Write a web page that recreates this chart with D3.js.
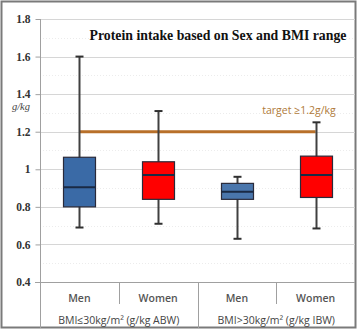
<!DOCTYPE html>
<html><head><meta charset="utf-8">
<script src="https://cdn.jsdelivr.net/npm/d3@7"></script>
<style>body{margin:0;background:#fff}svg{display:block}</style>
</head><body><div id="c"></div>
<script>
const categories = ["Men","Women","Men","Women"];
const groups = ["BMI≤30kg/m² (g/kg ABW)","BMI>30kg/m² (g/kg IBW)"];
const whiskerLow = [0.69,0.71,0.63,0.685];
const q1 = [0.80,0.84,0.84,0.85];
const median = [0.905,0.97,0.88,0.97];
const q3 = [1.064,1.04,0.925,1.07];
const whiskerHigh = [1.60,1.31,0.96,1.25];
const colors = ["#3a6aa6","#ff0000","#4a76ac","#ff0000"];
const yTicks = [0.4,0.6,0.8,1,1.2,1.4,1.6,1.8];
const yTickLabels = ["0.4","0.6","0.8","1","1.2","1.4","1.6","1.8"];
const target = 1.2;
const title = "Protein intake based on Sex and BMI range";

(function(){
const W=358,H=329;
const svg=d3.select("#c").append("svg").attr("width",W).attr("height",H);
svg.append("rect").attr("x",1.5).attr("y",1.5).attr("width",W-4).attr("height",H-3).attr("fill","#fff").attr("stroke","#7a7a7a").attr("stroke-width",2);

const pL=40,pR=355,pT=19,pB=282;
const y=d3.scaleLinear().domain([0.4,1.8]).range([pB,pT]);
const x=d3.scaleBand().domain(d3.range(categories.length)).range([pL,pR]);

const minor=d3.range(0.5,1.8,0.2);
svg.append("g").selectAll("line").data(minor).join("line")
 .attr("x1",pL).attr("x2",pR).attr("y1",d=>Math.round(y(d))+0.5).attr("y2",d=>Math.round(y(d))+0.5)
 .attr("stroke","#ececec").attr("stroke-dasharray","1,2");
svg.append("g").selectAll("line").data(yTicks.slice(1)).join("line")
 .attr("x1",pL).attr("x2",pR).attr("y1",d=>Math.round(y(d))+0.5).attr("y2",d=>Math.round(y(d))+0.5)
 .attr("stroke","#d6d6d6");

const yAxis=d3.axisLeft(y).tickValues(yTicks).tickFormat((d,i)=>yTickLabels[i]).tickSize(5).tickPadding(5);
const ga=svg.append("g").attr("transform",`translate(${pL+0.5},0)`).call(yAxis);
ga.select(".domain").attr("stroke","#a0a0a0").attr("d",`M0,${pT}V${pB}`);
ga.selectAll(".tick line").attr("stroke","#a0a0a0");
ga.selectAll(".tick text").attr("font-family","'Liberation Serif',serif").attr("font-weight","bold").attr("font-size",11.5).attr("fill","#333");
svg.append("line").attr("x1",pL-5).attr("x2",pR).attr("y1",pB+0.5).attr("y2",pB+0.5).attr("stroke","#a0a0a0");
svg.append("line").attr("x1",pL+0.5).attr("x2",pL+0.5).attr("y1",pB).attr("y2",H-1).attr("stroke","#a0a0a0");
[1,3].forEach(i=>svg.append("line").attr("x1",Math.round(x(i))+0.5).attr("x2",Math.round(x(i))+0.5).attr("y1",pB).attr("y2",304).attr("stroke","#a0a0a0"));
svg.append("line").attr("x1",Math.round(x(2))+0.5).attr("x2",Math.round(x(2))+0.5).attr("y1",pB).attr("y2",H-1).attr("stroke","#a0a0a0");

svg.append("text").attr("x",21).attr("y",110).attr("text-anchor","middle").attr("font-family","'Liberation Serif',serif").attr("font-style","italic").attr("font-size",10.5).attr("fill","#444").text("g/kg");

const cx=i=>x(i)+x.bandwidth()/2;
svg.append("line").attr("x1",cx(0)).attr("x2",cx(3)).attr("y1",y(target)).attr("y2",y(target)).attr("stroke","#b8702a").attr("stroke-width",3);
svg.append("text").attr("x",299).attr("y",114).attr("text-anchor","middle").attr("font-family","'Open Sans',sans-serif").attr("font-size",10.5).attr("fill","#b07a3a").text("target ≥1.2g/kg");

const bw=32;
const g=svg.append("g");
categories.forEach((c,i)=>{
  const xc=Math.round(cx(i))+0.5;
  g.append("line").attr("x1",xc).attr("x2",xc).attr("y1",y(whiskerHigh[i])).attr("y2",y(whiskerLow[i])).attr("stroke","#404040").attr("stroke-width",2);
  [whiskerHigh[i],whiskerLow[i]].forEach(v=>g.append("line").attr("x1",xc-4).attr("x2",xc+4).attr("y1",y(v)).attr("y2",y(v)).attr("stroke","#303030").attr("stroke-width",2));
  g.append("rect").attr("x",xc-bw/2).attr("y",y(q3[i])).attr("width",bw).attr("height",y(q1[i])-y(q3[i])).attr("fill",colors[i]).attr("stroke","#2a2a3a").attr("stroke-width",1.2);
  g.append("line").attr("x1",xc-bw/2).attr("x2",xc+bw/2).attr("y1",y(median[i])).attr("y2",y(median[i])).attr("stroke","#1a2a44").attr("stroke-width",2);
});

svg.append("g").selectAll("text").data(categories).join("text")
 .attr("x",(d,i)=>cx(i)).attr("y",302).attr("text-anchor","middle").attr("font-family","'Open Sans',sans-serif").attr("font-size",10.5).attr("font-weight","600").attr("fill","#555").text(d=>d);
svg.append("g").selectAll("text").data(groups).join("text")
 .attr("x",(d,i)=>(cx(i*2)+cx(i*2+1))/2).attr("y",324).attr("text-anchor","middle").attr("font-family","'Open Sans',sans-serif").attr("font-size",10.5).attr("fill","#444").text(d=>d);

svg.append("text").attr("x",218).attr("y",40).attr("text-anchor","middle").attr("font-family","'Liberation Serif',serif").attr("font-weight","bold").attr("font-size",13.8).attr("fill","#111").text(title);
})();
</script></body></html>
